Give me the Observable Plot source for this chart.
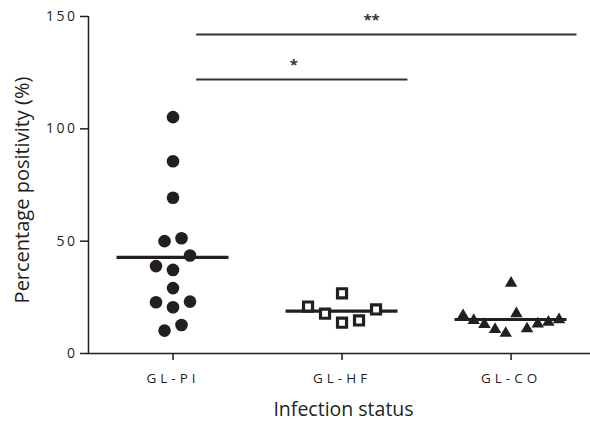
<!DOCTYPE html>
<html><head><meta charset="utf-8">
<script src="https://cdn.jsdelivr.net/npm/d3@7"></script>
<script src="https://cdn.jsdelivr.net/npm/@observablehq/plot@0.6"></script>
<style>
body{margin:0;background:#fff}
#chart svg{display:block}
g[aria-label="x-axis tick label"] text{letter-spacing:4px}
g[aria-label="y-axis tick label"] text{letter-spacing:2.5px}
</style></head><body><div id="chart"></div>
<script>
// ---- data ----
const groups = ["GL-PI", "GL-HF", "GL-CO"];
const valuesPI = [105.2, 85.6, 69.3, 50.0, 51.3, 37.2, 38.9, 43.6, 29.1, 20.6, 22.8, 23.1, 10.2, 12.7];
const valuesHF = [26.8, 13.7, 17.7, 14.7, 20.9, 19.6];
const valuesCO = [31.3, 9.0, 17.7, 10.7, 11.0, 12.9, 13.2, 14.7, 13.9, 16.9, 15.1];
const yTicks = [0, 50, 100, 150];
const compFrom = ["GL-PI", "GL-PI"];
const compTo = ["GL-HF", "GL-CO"];
const compLevel = [122, 142];
const compLabel = ["*", "**"];

// ---- layout ----
const W = 590, H = 423, mL = 88, mR = 0, mT = 16, mB = 70;
const xDomain = [-0.5, 2.47], yDomain = [0, 150];
const pxX = (W - mL - mR) / (xDomain[1] - xDomain[0]);
const pxY = (H - mT - mB) / (yDomain[1] - yDomain[0]);
const symbolPx = 12, maxSpread = 96, maxStep = 17, meanHalf = 56;
const ink = "#231f20";

function layoutGroup(vals, gi) {
  const sorted = vals.map((v, k) => ({v, k})).sort((a, b) => a.v - b.v);
  const rows = []; let cur = null, prev = null;
  for (const p of sorted) {
    if (prev === null || (p.v - prev) * pxY > symbolPx) { cur = []; rows.push(cur); }
    cur.push(p); prev = p.v;
  }
  const out = [];
  for (const row of rows) {
    row.sort((a, b) => a.k - b.k);
    const n = row.length;
    const step = n > 1 ? Math.min(maxStep, maxSpread / (n - 1)) : 0;
    row.forEach((p, j) => {
      let slot;
      if (n % 2) slot = j === 0 ? 0 : Math.ceil(j / 2) * (j % 2 ? -1 : 1);
      else slot = (Math.floor(j / 2) + 0.5) * (j % 2 ? 1 : -1);
      out.push({group: groups[gi], i: gi, value: p.v, x: gi + slot * step / pxX});
    });
  }
  return out;
}
const allVals = [valuesPI, valuesHF, valuesCO];
const pts = allVals.map((v, gi) => layoutGroup(v, gi));
const means = allVals.map((v, gi) => ({i: gi, mean: d3.mean(v)}));
const comps = compFrom.map((f, k) => {
  const a = groups.indexOf(f), b = groups.indexOf(compTo[k]);
  const x1 = a + 0.14, x2 = b + 0.39;
  return {x1, x2, xl: x1 + 0.46 * (x2 - x1), y: compLevel[k], label: compLabel[k]};
});

const chart = Plot.plot({
  width: W, height: H,
  marginLeft: mL, marginRight: mR, marginTop: mT, marginBottom: mB,
  style: {fontFamily: "'Open Sans', sans-serif", color: ink, background: "#fff", overflow: "visible"},
  x: {type: "linear", domain: xDomain},
  y: {domain: yDomain},
  marks: [
    Plot.axisY({ticks: yTicks, tickSize: 8, tickPadding: 3, fontSize: 14, label: null, stroke: ink, strokeWidth: 1.5}),
    Plot.axisX({ticks: [0, 1, 2], tickFormat: i => groups[i], tickSize: 7, tickPadding: 13, fontSize: 13.5, label: null, stroke: ink, strokeWidth: 1.5}),
    Plot.ruleY([yDomain[0]], {stroke: ink, strokeWidth: 1.5}),
    Plot.ruleX([xDomain[0]], {stroke: ink, strokeWidth: 1.5}),
    Plot.ruleY(means, {y: "mean", x1: d => d.i - meanHalf / pxX, x2: d => d.i + meanHalf / pxX, stroke: ink, strokeWidth: 3.2}),
    Plot.dot(pts[0], {x: "x", y: "value", r: 6.3, fill: ink, stroke: "none"}),
    Plot.dot(pts[1], {x: "x", y: "value", r: 5.1, symbol: "square", fill: "#fff", stroke: ink, strokeWidth: 3.2}),
    Plot.dot(pts[2], {x: "x", y: "value", r: 4.6, symbol: "triangle", fill: ink, stroke: "none"}),
    Plot.ruleY(comps, {y: "y", x1: "x1", x2: "x2", stroke: "#333", strokeWidth: 2}),
    Plot.text(comps, {x: "xl", y: "y", text: "label", dy: -9, lineAnchor: "bottom", fontSize: 15, fontWeight: "bold", fill: "#333"}),
    Plot.text(["Percentage positivity (%)"], {frameAnchor: "left", text: d => d, rotate: -90, dx: -66, dy: 5, fontSize: 20, fill: ink, textAnchor: "middle", lineAnchor: "middle"}),
    Plot.text(["Infection status"], {frameAnchor: "bottom", text: d => d, dy: 56, dx: 4, fontSize: 19.5, fill: ink, textAnchor: "middle", lineAnchor: "middle"})
  ]
});
document.getElementById("chart").appendChild(chart);
</script>
</body></html>
